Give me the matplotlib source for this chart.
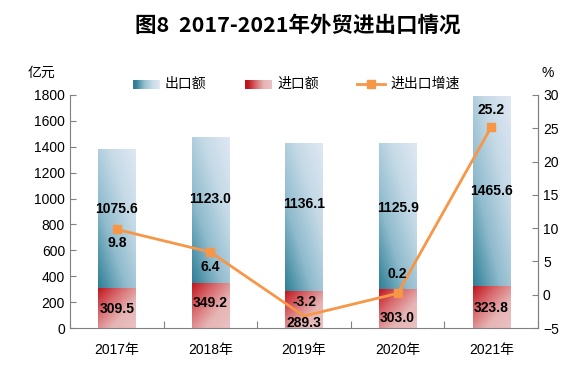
import numpy as np
import matplotlib
matplotlib.use("Agg")
import matplotlib.pyplot as plt
from matplotlib.colors import LinearSegmentedColormap
from matplotlib.lines import Line2D

plt.rcParams['font.family'] = ['Liberation Sans', 'Noto Sans CJK SC', 'DejaVu Sans']
CJK = ['Noto Sans CJK SC', 'DejaVu Sans']

years = ['2017年', '2018年', '2019年', '2020年', '2021年']
export_vals = [1075.6, 1123.0, 1136.1, 1125.9, 1465.6]
import_vals = [309.5, 349.2, 289.3, 303.0, 323.8]
growth = [9.8, 6.4, -3.2, 0.2, 25.2]

exp_cmap = LinearSegmentedColormap.from_list('exp', ['#2f7f96', '#8fbbcd', '#c4d9e6', '#dfe8f3'])
imp_cmap = LinearSegmentedColormap.from_list('imp', ['#c0141c', '#d86a6e', '#e6b4b4', '#ebc2c2'])
ORANGE = '#f79646'

W, H = 578, 370
fig = plt.figure(figsize=(W / 100, H / 100), dpi=100)
ax = fig.add_axes([0.121, 0.1135, 0.810, 0.630])
ax2 = ax.twinx()

x = np.arange(len(years))
w = 0.4
b_imp = ax.bar(x, import_vals, width=w, color='none', edgecolor='none')
b_exp = ax.bar(x, export_vals, width=w, bottom=import_vals, color='none', edgecolor='none')

# gradient fill clipped to each bar
uu, vv = np.meshgrid(np.linspace(0, 1, 40), np.linspace(0, 1, 200))
g_exp = 0.45 * uu + 0.55 * vv
g_imp = 0.5 * uu + 0.5 * (1 - vv)
for bars, grad, cm in [(b_exp, g_exp, exp_cmap), (b_imp, g_imp, imp_cmap)]:
    for p in bars:
        x0, y0 = p.get_x(), p.get_y()
        im = ax.imshow(grad, cmap=cm, origin='lower', aspect='auto',
                       extent=[x0, x0 + p.get_width(), y0, y0 + p.get_height()],
                       vmin=0, vmax=1, zorder=1)
        im.set_clip_path(p)

ax.set_xlim(-0.5, 4.5)
ax.set_ylim(0, 1800)
ax.set_yticks(np.arange(0, 1801, 200))
ax2.set_ylim(-5, 30)
ax2.set_yticks(np.arange(-5, 31, 5))

ax2.plot(x, growth, color=ORANGE, lw=2, marker='s', ms=6, zorder=3,
         markevery=[0, 1, 3, 4])

# label offsets (points) to mimic the reference placement
exp_dy = [7, 8, 9, 6, 0]
imp_dy = [-1, 2, -10, -7, -1]
g_dy = [-10, -11, 10, 14, 12]

lab = dict(ha='center', va='center', fontsize=10, fontweight='bold', color='black',
           textcoords='offset points', zorder=6)
for i in range(len(years)):
    ax2.annotate(f'{import_vals[i]:.1f}', (x[i], import_vals[i] / 2), xycoords=ax.transData,
                 xytext=(0, imp_dy[i]), **lab)
    ax2.annotate(f'{export_vals[i]:.1f}', (x[i], import_vals[i] + export_vals[i] / 2),
                 xycoords=ax.transData, xytext=(0, exp_dy[i]), **lab)
    ax2.annotate(f'{growth[i]:.1f}', (x[i], growth[i]), xytext=(0, g_dy[i]), **lab)

ax.set_xticks(np.arange(-0.5, 4.6, 1))
ax.set_xticklabels([])
ax.set_xticks(x, minor=True)
ax.set_xticklabels(years, minor=True, fontsize=10)
ax.tick_params(axis='x', which='major', direction='in', length=5, color='#808080')
ax.tick_params(axis='x', which='minor', length=0, pad=11)
ax.tick_params(axis='y', direction='in', length=4, color='#808080', labelsize=10)
ax2.tick_params(axis='y', direction='in', length=4, color='#808080', labelsize=10)

for a in (ax, ax2):
    a.spines['top'].set_visible(False)
    for s in ('left', 'right', 'bottom'):
        a.spines[s].set_color('#808080')
ax2.spines['left'].set_visible(False)
ax2.spines['bottom'].set_visible(False)

fig.text(0.515, 0.932, '图8  2017-2021年外贸进出口情况', ha='center', va='center',
         fontsize=15.5, fontweight='bold', family=CJK)
fig.text(0.071, 0.803, '亿元', ha='center', va='center', fontsize=10, family=CJK)
fig.text(0.948, 0.803, '%', ha='center', va='center', fontsize=10)

# legend drawn by hand so the swatches can carry the gradient
leg_y = 1 - 84 / H
lg = np.linspace(0, 1, 60).reshape(1, -1)
for px, cm, label in [(133, exp_cmap, '出口额'), (245, imp_cmap, '进口额')]:
    lax = fig.add_axes([px / W, (H - 89) / H, 27 / W, 9 / H])
    lax.imshow(lg, cmap=cm, aspect='auto', vmin=0.1, vmax=1)
    lax.axis('off')
    fig.text((px + 32) / W, leg_y, label, ha='left', va='center', fontsize=10, family=CJK)
fig.add_artist(Line2D([357 / W, 385 / W], [leg_y, leg_y], color=ORANGE, lw=2,
                      transform=fig.transFigure))
fig.add_artist(Line2D([371 / W], [leg_y], color=ORANGE, marker='s', ms=6,
                      transform=fig.transFigure))
fig.text(390 / W, leg_y, '进出口增速', ha='left', va='center', fontsize=10, family=CJK)

fig.savefig('out.png', dpi=100)
